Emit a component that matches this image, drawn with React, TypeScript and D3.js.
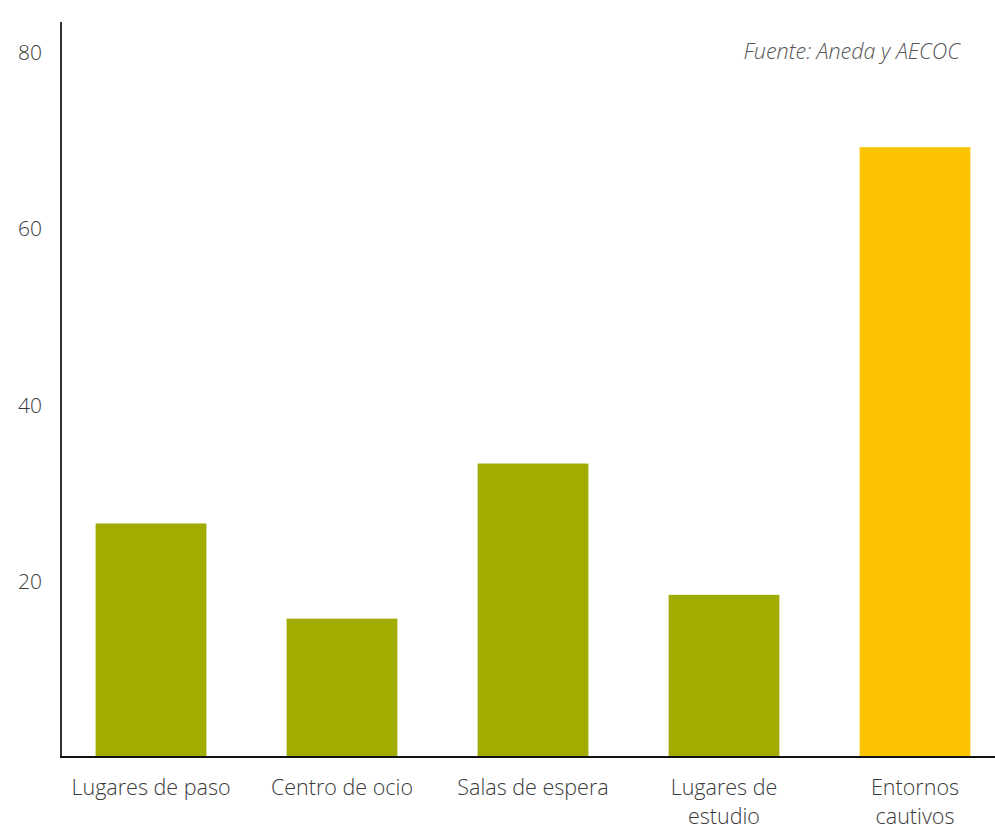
import React from "react";
import * as d3 from "d3";

const categories: string[][] = [
  ["Lugares de paso"],
  ["Centro de ocio"],
  ["Salas de espera"],
  ["Lugares de", "estudio"],
  ["Entornos", "cautivos"],
];
const values: number[] = [26.5, 15.7, 33.3, 18.4, 69.2];
const highlight: boolean[] = [false, false, false, false, true];
const yTicks: number[] = [20, 40, 60, 80];
const sourceText = "Fuente: Aneda y AECOC";

const W = 995;
const H = 832;
const FONT = "'Open Sans', Lato, sans-serif";

export default function App() {
  const keys = categories.map((c) => c.join(" "));
  const x = d3
    .scaleBand<string>()
    .domain(keys)
    .range([55.5, 1010.5])
    .paddingInner(0.42)
    .paddingOuter(0.21);
  const y = d3.scaleLinear().domain([0, 80]).range([757, 52]);

  return (
    <div style={{ position: "fixed", left: 0, top: 0 }}>
      <svg width={W} height={H} style={{ display: "block", background: "#fff" }}>
        {values.map((v, i) => (
          <rect
            key={keys[i]}
            x={x(keys[i])}
            y={y(v)}
            width={x.bandwidth()}
            height={y(0) - y(v)}
            fill={highlight[i] ? "#FCC400" : "#A0AC00"}
          />
        ))}
        <line x1={61} x2={61} y1={22} y2={y(0)} stroke="#333" strokeWidth={2} />
        <line x1={60} x2={W} y1={y(0)} y2={y(0)} stroke="#111" strokeWidth={2} />
        {yTicks.map((t) => (
          <text
            key={t}
            x={42}
            y={y(t)}
            textAnchor="end"
            dominantBaseline="central"
            fontFamily={FONT}
            fontWeight={300}
            fontSize={21}
            fill="#3a3a3a"
          >
            {t}
          </text>
        ))}
        {categories.map((lines, i) => (
          <text
            key={keys[i]}
            x={(x(keys[i]) as number) + x.bandwidth() / 2}
            y={795}
            textAnchor="middle"
            fontFamily={FONT}
            fontWeight={300}
            fontSize={21.5}
            fill="#3a3a3a"
          >
            {lines.map((l, j) => (
              <tspan key={j} x={(x(keys[i]) as number) + x.bandwidth() / 2} dy={j === 0 ? 0 : 29}>
                {l}
              </tspan>
            ))}
          </text>
        ))}
        <text
          x={960}
          y={59}
          textAnchor="end"
          fontFamily={FONT}
          fontWeight={300}
          fontStyle="italic"
          fontSize={21.5}
          fill="#555"
        >
          {sourceText}
        </text>
      </svg>
    </div>
  );
}
